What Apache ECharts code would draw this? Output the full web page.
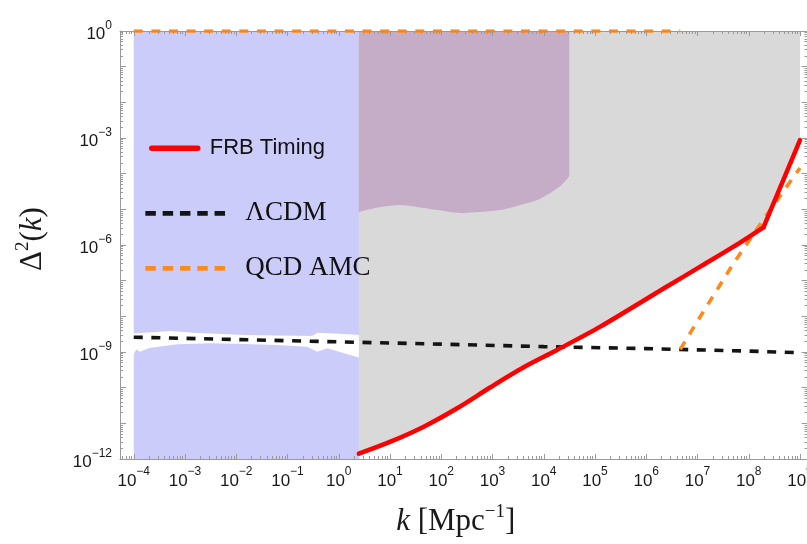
<!DOCTYPE html>
<html>
<head>
<meta charset="utf-8">
<script src="https://cdn.jsdelivr.net/npm/echarts@6/dist/echarts.min.js"></script>
<style>
html,body{margin:0;padding:0;background:#fff;}
#chart{width:807px;height:544px;}
</style>
</head>
<body>
<div id="chart"></div>
<script>
// ---- data (log10 values) ----
const xTickExps = [-4,-3,-2,-1,0,1,2,3,4,5,6,7,8,9];
const yTickExps = [0,-3,-6,-9,-12];
const yDecadeExps = [0,-1,-2,-3,-4,-5,-6,-7,-8,-9,-10,-11,-12];

// FRB Timing (red solid): lower branch up to the kink, then a straight branch
const frbLogK  = [0.392, 1.010, 1.659, 2.310, 2.959, 3.608, 4.259, 5.103, 6.404, 7.053, 7.702, 8.287];
const frbLogD2 = [-11.85, -11.514, -11.094, -10.578, -9.989, -9.428, -8.943, -8.289, -7.163, -6.608, -6.047, -5.503];
const frbHighLogK  = [8.287, 9.0];
const frbHighLogD2 = [-5.503, -3.06];

// LambdaCDM (black dashed)
const lcdmLogK  = [-4, -2, 0, 2, 4, 6, 8, 9];
const lcdmLogD2 = [-8.585, -8.65, -8.715, -8.78, -8.85, -8.905, -8.975, -9.02];

// QCD AMC (orange dashed): flat part on the top edge and rising part
const qcdTopLogK  = [-4, 6.663];
const qcdTopLogD2 = [0, 0];
const qcdLogK  = [6.663, 7.053, 7.702, 8.281, 8.807, 9.0];
const qcdLogD2 = [-8.925, -8.01, -6.515, -5.299, -4.225, -3.841];

// blue excluded region: upper part (above the white band) and lower part (below it)
const blueTopLogK  = [-4, -3.28, -2.83, -1.856, -0.55, -0.49, -0.42, 0.094, 0.405];
const blueTopLogD2 = [-8.48, -8.41, -8.458, -8.523, -8.551, -8.53, -8.458, -8.495, -8.52];
const blueBotLogK  = [-4, -3.95, -3.88, -3.7, -3.148, -2.499, -1.856, -1.199, -0.614, -0.419, -0.224, 0.405];
const blueBotLogD2 = [-9.06, -8.93, -8.99, -8.89, -8.783, -8.755, -8.775, -8.803, -8.851, -8.991, -8.895, -9.159];

// purple excluded region (lower boundary)
const purpleLogK  = [0.392, 0.815, 1.205, 1.789, 2.374, 3.154, 3.544, 3.875, 4.129, 4.324, 4.441, 4.499];
const purpleLogD2 = [-5.074, -4.934, -4.878, -4.99, -5.102, -5.018, -4.878, -4.738, -4.542, -4.345, -4.177, -4.065];

// ---- helpers ----
const zip = (a, b) => a.map((v, i) => [v, b[i]]);
const X_MIN = -4.2683, X_MAX = 9.1463, Y_MIN = -12, Y_MAX = 0;
const SANS = "'Liberation Sans', Arial, sans-serif";
const SERIF = "'Liberation Serif', 'Times New Roman', serif";
const BLUE = '#ccccfb', GRAY = '#d9d9d9', PURPLE = '#c5adc7';
const RED = '#ff0000', BLACK = '#141414', ORANGE = '#ff8a1c';
const AXIS_C = '#9a9a9a';

function minorOf(exps, lo, hi) {
  const out = [];
  const a = Math.min(...exps) - 1, b = Math.max(...exps) + 1;
  for (let n = a; n <= b; n++) {
    for (let m = 2; m <= 9; m++) {
      const v = n + Math.log10(m);
      if (v > lo && v < hi) out.push(v);
    }
  }
  return out;
}
const xMinor = minorOf(xTickExps, X_MIN, X_MAX);
const yMinor = minorOf(yDecadeExps, Y_MIN, Y_MAX);

const supFmt = v => '{b|10}{s|' + (v < 0 ? '\u2212' + Math.abs(v) : String(v)) + '}';
const supRich = {
  b: { fontFamily: SANS, fontSize: 17, lineHeight: 30, color: '#1a1a1a' },
  s: { fontFamily: SANS, fontSize: 12, lineHeight: 10, verticalAlign: 'top', color: '#1a1a1a' }
};

function xAx(pos, major, withLine, withLabel) {
  return {
    type: 'value', position: pos, min: X_MIN, max: X_MAX, z: 10,
    axisLine: { show: withLine, onZero: false, lineStyle: { color: AXIS_C, width: 1 } },
    axisTick: { show: true, inside: true, length: major ? 5 : 3,
      customValues: major ? xTickExps : xMinor, lineStyle: { color: AXIS_C, width: 1 } },
    axisLabel: withLabel ? { show: true, customValues: xTickExps, formatter: supFmt, rich: supRich, margin: 7 } : { show: false },
    splitLine: { show: false }
  };
}
function yAx(pos, major, withLine, withLabel) {
  return {
    type: 'value', position: pos, min: Y_MIN, max: Y_MAX, z: 10,
    axisLine: { show: withLine, onZero: false, lineStyle: { color: AXIS_C, width: 1 } },
    axisTick: { show: true, inside: true, length: major ? 6 : 3,
      customValues: major ? yDecadeExps : yMinor, lineStyle: { color: AXIS_C, width: 1 } },
    axisLabel: withLabel ? { show: true, customValues: yTickExps, formatter: supFmt, rich: supRich, margin: 8, padding: [7, 0, 0, 0] } : { show: false },
    splitLine: { show: false }
  };
}

const xAxes = [xAx('bottom', true, true, true), xAx('bottom', false, false, false), xAx('top', true, true, false), xAx('top', false, false, false)];
const yAxes = [yAx('left', true, true, true), yAx('left', false, false, false), yAx('right', true, true, false), yAx('right', false, false, false)];

const titleRich = {
  k: { fontFamily: SERIF, fontStyle: 'italic', fontSize: 31, lineHeight: 38, color: '#1a1a1a' },
  d: { fontFamily: SERIF, fontSize: 31, lineHeight: 38, color: '#1a1a1a' },
  s: { fontFamily: SERIF, fontSize: 19, lineHeight: 20, verticalAlign: 'top', color: '#1a1a1a' }
};
xAxes[0].name = '{k|k}{d| [Mpc}{s|\u22121}{d|]}';
xAxes[0].nameLocation = 'middle';
xAxes[0].nameGap = 44;
xAxes[0].nameTextStyle = { padding: [0, 16, 0, 0], rich: titleRich };
yAxes[0].name = '{d|\u0394}{s|2}{d|(}{k|k}{d|)}';
yAxes[0].nameLocation = 'middle';
yAxes[0].nameGap = 68;
yAxes[0].nameTextStyle = { padding: [0, 0, 0, 12], rich: titleRich };

function areaSeries(name, data, color, origin, smooth) {
  return {
    name: name, type: 'line', data: data, symbol: 'none', showSymbol: false, silent: true,
    smooth: smooth || false,
    lineStyle: { width: 0, opacity: 0 }, areaStyle: { color: color, opacity: 1, origin: origin },
    z: 1, animation: false, xAxisIndex: 0, yAxisIndex: 0
  };
}

const grayData = zip(frbLogK, frbLogD2).concat(zip(frbHighLogK.slice(1), frbHighLogD2.slice(1)));

const option = {
  animation: false,
  backgroundColor: '#ffffff',
  grid: { left: 120, top: 31, width: 687.5, height: 428, containLabel: false, outerBoundsMode: 'none' },
  xAxis: xAxes,
  yAxis: yAxes,
  legend: [
    { data: ['FRB Timing'], left: 149, top: 135.3, orient: 'vertical', padding: 0, itemWidth: 46, itemHeight: 14,
      selectedMode: false, itemStyle: { opacity: 0 }, lineStyle: { width: 5.5 },
      textStyle: { fontFamily: SANS, fontSize: 22, lineHeight: 26, color: '#111', padding: [0, 0, 0, 7] } },
    { data: ['\u039bCDM'], left: 143, top: 198.3, orient: 'vertical', padding: 0, itemWidth: 80, itemHeight: 14,
      selectedMode: false, itemStyle: { opacity: 0 }, lineStyle: { width: 4.7, type: [10.5, 6.8] },
      textStyle: { fontFamily: SERIF, fontSize: 27, lineHeight: 30, color: '#111', padding: [0, 0, 0, 15] } },
    { data: ['QCD AMC'], left: 143, top: 253.3, orient: 'vertical', padding: 0, itemWidth: 80, itemHeight: 14,
      selectedMode: false, itemStyle: { opacity: 0 }, lineStyle: { width: 4.7, type: [10.5, 6.8] },
      textStyle: { fontFamily: SERIF, fontSize: 27, lineHeight: 30, color: '#111', padding: [0, 0, 0, 15] } }
  ],
  series: [
    areaSeries('blueUpper', zip(blueTopLogK, blueTopLogD2), BLUE, 'end'),
    areaSeries('blueLower', zip(blueBotLogK, blueBotLogD2), BLUE, 'start'),
    areaSeries('grayRegion', grayData, GRAY, 'end'),
    areaSeries('purpleRegion', zip(purpleLogK, purpleLogD2), PURPLE, 'end', 0.2),
    { name: '\u039bCDM', type: 'line', data: zip(lcdmLogK, lcdmLogD2), symbol: 'none', showSymbol: false,
      lineStyle: { color: BLACK, width: 3.6, type: [9, 8.6] }, itemStyle: { color: BLACK }, z: 3 },
    { name: 'QCD AMC', type: 'line', data: zip(qcdTopLogK, qcdTopLogD2), symbol: 'none', showSymbol: false,
      lineStyle: { color: ORANGE, width: 3.6, type: [9, 8.6] }, itemStyle: { color: ORANGE }, z: 3 },
    { name: 'QCD AMC', type: 'line', data: zip(qcdLogK, qcdLogD2), symbol: 'none', showSymbol: false,
      lineStyle: { color: ORANGE, width: 3.6, type: [9, 8.6] }, itemStyle: { color: ORANGE }, z: 3 },
    { name: 'FRB Timing', type: 'line', data: zip(frbLogK, frbLogD2), symbol: 'none', showSymbol: false,
      smooth: 0.3,
      lineStyle: { color: RED, width: 4.5, cap: 'round', join: 'round' }, itemStyle: { color: RED }, z: 4 },
    { name: 'FRB Timing', type: 'line', data: zip(frbHighLogK, frbHighLogD2), symbol: 'none', showSymbol: false,
      lineStyle: { color: RED, width: 4.5, cap: 'round', join: 'round' }, itemStyle: { color: RED }, z: 4 }
  ]
};

const chart = echarts.init(document.getElementById('chart'), null, { renderer: 'canvas' });
chart.setOption(option);
</script>
</body>
</html>
